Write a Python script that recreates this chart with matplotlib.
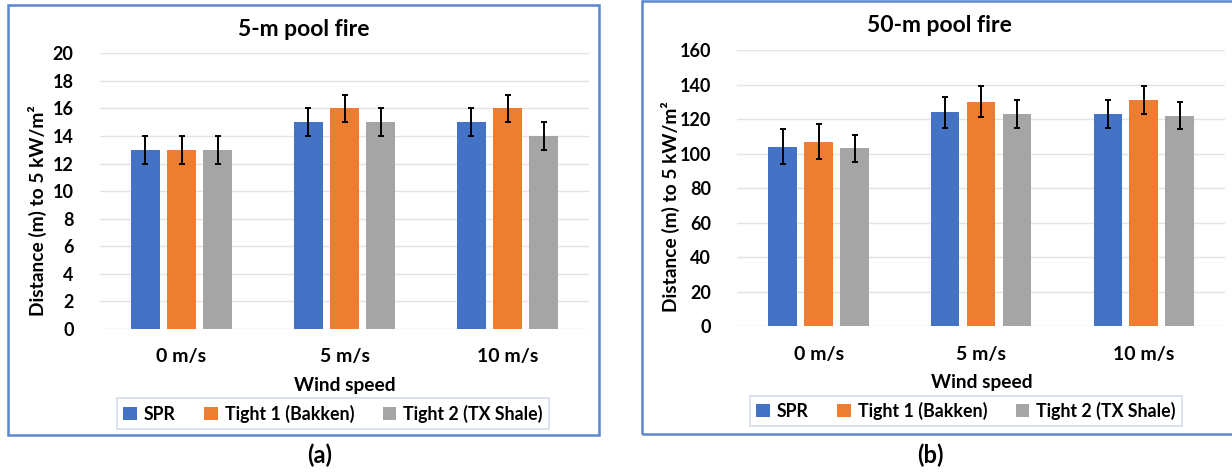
import matplotlib
matplotlib.use("Agg")
import matplotlib.pyplot as plt
import numpy as np
from matplotlib.patches import Rectangle

plt.rcParams['font.family'] = ['Lato', 'DejaVu Sans']
plt.rcParams['font.weight'] = 'bold'

# ---- data ----
categories = ["0 m/s", "5 m/s", "10 m/s"]
series_names = ["SPR", "Tight 1 (Bakken)", "Tight 2 (TX Shale)"]
colors = ["#4472C4", "#ED7D31", "#A5A5A5"]

a_spr = [13, 15, 15]
a_t1 = [13, 16, 16]
a_t2 = [13, 15, 14]
a_spr_err = [1, 1, 1]
a_t1_err = [1, 1, 1]
a_t2_err = [1, 1, 1]
a_yticks = [0, 2, 4, 6, 8, 10, 12, 14, 16, 18, 20]

b_spr = [104, 124, 123]
b_t1 = [107, 130, 131]
b_t2 = [103, 123, 122]
b_spr_err = [10, 9, 8]
b_t1_err = [10, 9, 8]
b_t2_err = [8, 8, 8]
b_yticks = [0, 20, 40, 60, 80, 100, 120, 140, 160]

W, H = 1232, 473
fig = plt.figure(figsize=(W / 100, H / 100), dpi=100)


def fx(px):
    return px / W


def fy(py):
    return 1 - py / H


def panel(frame, axbox, title, title_xy, vals, errs, yticks, ylab_xy,
          xlabel_xy, legend_xy, tag_xy, tag):
    # frame
    x0, y0, x1, y1 = frame
    fig.patches.append(Rectangle((fx(x0), fy(y1)), fx(x1 - x0), (y1 - y0) / H,
                                 transform=fig.transFigure, fill=False,
                                 edgecolor="#5B87CF", linewidth=1.8))
    l, t, r, b = axbox
    ax = fig.add_axes([fx(l), fy(b), fx(r - l), (b - t) / H])
    x = np.arange(len(categories))
    offs = [-0.221, 0.0, 0.221]
    for v, e, c, o, n in zip(vals, errs, colors, offs, series_names):
        ax.bar(x + o, v, width=0.175, color=c, label=n, zorder=2)
        ax.errorbar(x + o, v, yerr=e, fmt="none", ecolor="black",
                    elinewidth=1.4, capsize=2.2, capthick=1.4, zorder=3)
    ax.set_xlim(-0.5, 2.5)
    ax.set_ylim(yticks[0], yticks[-1])
    ax.set_yticks(yticks)
    ax.set_xticks(x)
    ax.set_xticklabels(categories)
    ax.yaxis.grid(True, color="#E3E3E3", linewidth=1.0, zorder=0)
    ax.set_axisbelow(True)
    for s in ax.spines.values():
        s.set_visible(False)
    ax.tick_params(axis="y", length=0, labelsize=13, colors="black", pad=19)
    ax.tick_params(axis="x", length=0, labelsize=14, colors="black", pad=14)
    for lab in ax.get_xticklabels() + ax.get_yticklabels():
        lab.set_fontweight("bold")

    fig.text(fx(title_xy[0]), fy(title_xy[1]), title, ha="center",
             va="center", fontsize=16.5, fontweight="bold")
    fig.text(fx(ylab_xy[0]), fy(ylab_xy[1]), "Distance (m) to 5 kW/m\u00b2",
             rotation=90, ha="center", va="center", fontsize=13.8,
             fontweight="bold")
    fig.text(fx(xlabel_xy[0]), fy(xlabel_xy[1]), "Wind speed", ha="center",
             va="center", fontsize=13.8, fontweight="bold")
    leg = ax.legend(loc="center", bbox_to_anchor=(fx(legend_xy[0]), fy(legend_xy[1])),
                    bbox_transform=fig.transFigure, ncol=3, frameon=True,
                    fancybox=False, edgecolor="#C9D3E0", fontsize=12.8,
                    handlelength=0.75, handleheight=0.75, handletextpad=0.4,
                    columnspacing=1.6, borderpad=0.35)
    leg.get_frame().set_linewidth(1.2)
    for txt in leg.get_texts():
        txt.set_fontweight("bold")
    fig.text(fx(tag_xy[0]), fy(tag_xy[1]), tag, ha="center", va="center",
             fontsize=17, fontweight="bold")
    return ax


panel((8, 5, 599, 435), (100, 53.3, 589, 329), "5-m pool fire", (304, 30),
      [a_spr, a_t1, a_t2], [a_spr_err, a_t1_err, a_t2_err], a_yticks,
      (37, 211), (345, 385), (333, 413.5), (320, 455), "(a)")
panel((642, 1.5, 1236, 434), (737.3, 50, 1225, 326.3), "50-m pool fire", (939, 25),
      [b_spr, b_t1, b_t2], [b_spr_err, b_t1_err, b_t2_err], b_yticks,
      (670, 207), (982, 382), (966, 411), (930, 455), "(b)")

fig.savefig("out.png", dpi=100, facecolor="white")
